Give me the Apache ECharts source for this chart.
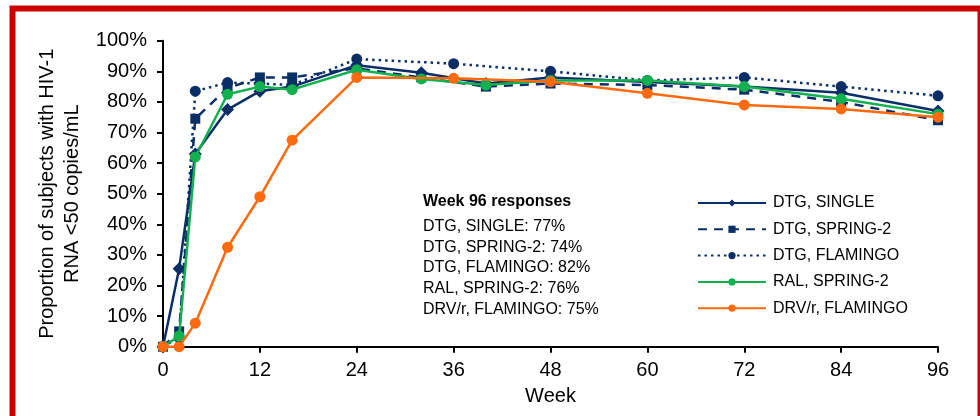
<!DOCTYPE html>
<html><head><meta charset="utf-8">
<script src="https://cdn.jsdelivr.net/npm/echarts@6/dist/echarts.min.js"></script>
<style>html,body{margin:0;padding:0;background:#fff}#c{width:980px;height:416px}</style>
</head><body><div id="c"></div>
<script>
const seriesNames = ['DTG, SINGLE', 'DTG, SPRING-2', 'DTG, FLAMINGO', 'RAL, SPRING-2', 'DRV/r, FLAMINGO'];
const weeksSingle = [0, 2, 4, 8, 12, 16, 24, 32, 40, 48, 60, 72, 84, 96];
const weeksSpring = [0, 2, 4, 8, 12, 16, 24, 32, 40, 48, 60, 72, 84, 96];
const weeksFlamingo = [0, 2, 4, 8, 12, 16, 24, 36, 48, 60, 72, 84, 96];
const dtgSingle   = [0, 25.5, 63, 77.5, 83.5, 85, 92, 89.5, 86, 88, 86.5, 85, 83, 77];
const dtgSpring   = [0, 5, 74.5, 84.5, 88, 88, 91, 88, 85, 86, 85.5, 84, 80, 74];
const dtgFlamingo = [0, 3, 83.5, 86.3, 86, 85.5, 94, 92.5, 90, 87, 88, 85, 82];
const ralSpring   = [0, 3.5, 62, 82.5, 85, 84, 90.5, 87.5, 85.5, 87, 87, 85, 81, 76];
const drvFlamingo = [0, 0, 7.7, 32.5, 49, 67.5, 88, 87.7, 86.6, 82.8, 79, 77.7, 75];
const xTicks = [0, 12, 24, 36, 48, 60, 72, 84, 96];
const annotationTitle = 'Week 96 responses';
const annotationLines = ['DTG, SINGLE: 77%', 'DTG, SPRING-2: 74%', 'DTG, FLAMINGO: 82%', 'RAL, SPRING-2: 76%', 'DRV/r, FLAMINGO: 75%'];

const NAVY = '#0A2F66', GREEN = '#12B04E', ORANGE = '#FF6A0E', RED = '#CC0000';
const FONT = '"Liberation Sans", Arial, sans-serif';

function pairs(w, v) { return w.map((x, i) => [x, v[i]]); }

const chart = echarts.init(document.getElementById('c'), null, {renderer: 'canvas'});

const annoY = [226.5, 247.3, 268, 288.7, 309.4];
const graphics = [
  {type: 'rect', shape: {x: 12.5, y: 8.5, width: 968, height: 420}, style: {fill: 'none', stroke: RED, lineWidth: 6}, z: 100},
  {type: 'text', x: 423, y: 201.5, style: {text: annotationTitle, font: 'bold 16px ' + FONT, fill: '#000', textVerticalAlign: 'middle'}}
];
annotationLines.forEach((t, i) => graphics.push({type: 'text', x: 423, y: annoY[i], style: {text: t, font: '16px ' + FONT, fill: '#000', textVerticalAlign: 'middle'}}));

const option = {
  animation: false,
  backgroundColor: '#fff',
  textStyle: {fontFamily: FONT},
  grid: {left: 163, right: 42, top: 40.7, bottom: 69.3, containLabel: false},
  legend: {
    orient: 'vertical', left: 692, top: 190, itemWidth: 68, itemHeight: 9, itemGap: 10.3,
    textStyle: {fontSize: 16, color: '#000', fontFamily: FONT, padding: [0, 0, 0, 2]},
    data: seriesNames
  },
  xAxis: {
    type: 'value', min: 0, max: 96, interval: 12,
    name: 'Week', nameLocation: 'middle', nameGap: 40,
    nameTextStyle: {fontSize: 20, color: '#000'},
    axisLine: {lineStyle: {color: '#000', width: 2}},
    axisTick: {show: true, length: 6, lineStyle: {color: '#000', width: 2}},
    axisLabel: {fontSize: 20, color: '#000', margin: 14},
    splitLine: {show: false}
  },
  yAxis: {
    type: 'value', min: 0, max: 100, interval: 10,
    name: 'Proportion of subjects with HIV-1\nRNA <50 copies/mL', nameLocation: 'middle', nameGap: 77, nameRotate: 90,
    nameTextStyle: {fontSize: 20, color: '#000', lineHeight: 25},
    axisLine: {show: true, lineStyle: {color: '#000', width: 2}},
    axisTick: {show: true, length: 6, lineStyle: {color: '#000', width: 2}},
    axisLabel: {fontSize: 20, color: '#000', margin: 16, formatter: '{value}%'},
    splitLine: {show: false}
  },
  graphic: graphics,
  series: [
    {name: seriesNames[0], type: 'line', data: pairs(weeksSingle, dtgSingle), symbol: 'diamond', symbolSize: 13,
     lineStyle: {color: NAVY, width: 2.5}, itemStyle: {color: NAVY}, z: 5},
    {name: seriesNames[1], type: 'line', data: pairs(weeksSpring, dtgSpring), symbol: 'rect', symbolSize: 10,
     lineStyle: {color: NAVY, width: 2.5, type: [9, 7]}, itemStyle: {color: NAVY}, z: 4},
    {name: seriesNames[2], type: 'line', data: pairs(weeksFlamingo, dtgFlamingo), symbol: 'circle', symbolSize: 11,
     lineStyle: {color: NAVY, width: 2.5, type: [2.5, 4]}, itemStyle: {color: NAVY}, z: 3},
    {name: seriesNames[3], type: 'line', data: pairs(weeksSpring, ralSpring), symbol: 'circle', symbolSize: 11,
     lineStyle: {color: GREEN, width: 2.5}, itemStyle: {color: GREEN}, z: 6},
    {name: seriesNames[4], type: 'line', data: pairs(weeksFlamingo, drvFlamingo), symbol: 'circle', symbolSize: 11,
     lineStyle: {color: ORANGE, width: 2.5}, itemStyle: {color: ORANGE}, z: 7}
  ]
};
chart.setOption(option);
</script></body></html>
